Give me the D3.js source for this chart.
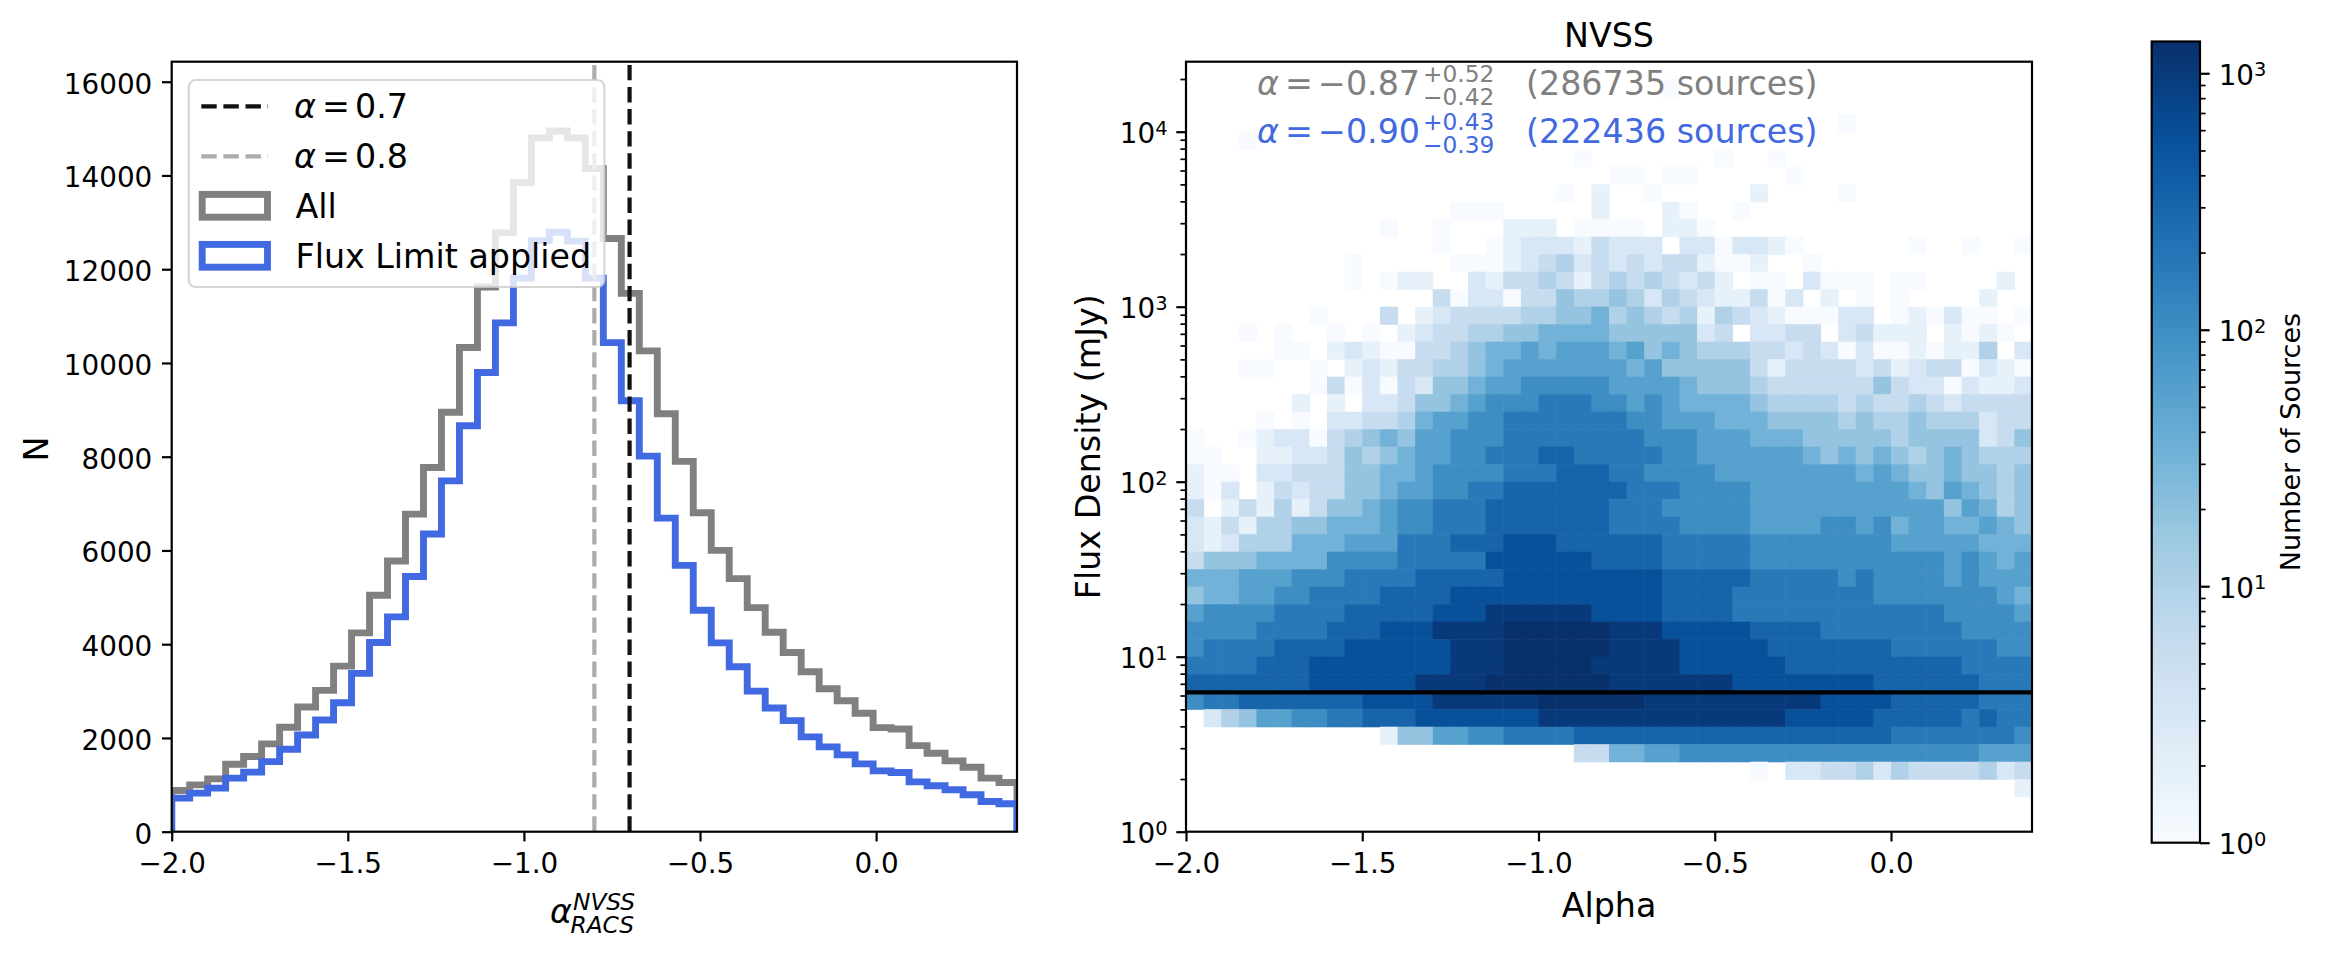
<!DOCTYPE html>
<meta charset="utf-8">
<style>
body { margin: 0; background: #fff; }
text { font-family: "DejaVu Sans", sans-serif; }
</style>
<svg width="2326" height="955"></svg>
<script src="https://d3js.org/d3.v7.min.js"></script>
<script>

// ---------------- data ----------------

// 1D histograms of the spectral index, 47 equal bins over [-2.0, 0.4]
const binStart = -2.0, binEnd = 0.4;
const allCounts = [879, 1000, 1128, 1440, 1603, 1873, 2227, 2660, 3015, 3532,
  4241, 5043, 5774, 6775, 7770, 8950, 10330, 11620, 12775, 13850,
  14800, 14950, 14800, 14150, 12655, 11484, 10257, 8915, 7900, 6803,
  6001, 5398, 4781, 4256, 3824, 3411, 3050, 2795, 2526, 2220,
  2190, 1837, 1674, 1511, 1376, 1143, 1049];
const fluxCounts = [717, 823, 930, 1143, 1270, 1496, 1760, 2064, 2383, 2752,
  3377, 4037, 4582, 5445, 6350, 7485, 8661, 9795, 10855, 11810,
  12610, 12790, 12600, 11810, 10434, 9193, 8012, 6689, 5682, 4724,
  4029, 3518, 3000, 2639, 2369, 2022, 1809, 1639, 1447, 1298,
  1262, 1064, 979, 894, 787, 645, 596];
const seriesLabels = ["All", "Flux Limit applied"];

// reference spectral indices (drawn at -alpha)
const alphaRefs = [0.7, 0.8];

// annotation lines in the right panel
const alphaMedians = ["0.87", "0.90"];
const alphaUpper = ["0.52", "0.43"];
const alphaLower = ["0.42", "0.39"];
const sourceCounts = ["286735", "222436"];

const fluxLimit = 6.25;     // mJy, horizontal line
const countTicks = [0, 2000, 4000, 6000, 8000, 10000, 12000, 14000, 16000];
const alphaTicks = [-2.0, -1.5, -1.0, -0.5, 0.0];
const countMax = 16427;     // y limit of the left panel
const fluxLogMax = 4.4;     // y limit of the right panel, log10 mJy
const densityMax = 1330;    // colour scale maximum

// 2D histogram: 48 alpha bins of 0.05, rows of 0.1 dex in flux from 10^0.2
// rows listed top (10^4.3-4.4) to bottom (10^0.2-0.3)
// each char = log10(count) in quarter dex steps ("0" = 1 source), "." = empty
const alphaStep = 0.05, fluxLogMin = 0.2, fluxLogStep = 0.1;
const densityRows = [
  "................................................",
  "...........................0....................",
  "................................................",
  ".....................................0..........",
  "...0............................................",
  "......................0.......0..0..............",
  "........................00.00.....0.............",
  ".....................0.1..0.....1....0..........",
  "...............000.....1...10..0................",
  "...........0..0...111.0000.110..................",
  "..............0..0122213222.2202210......0..0..0",
  ".........0.....000123423232331001..0............",
  ".........0.011..213343134343231.00.2000.00....1.",
  "..............302203354454243211302.1.0.0....1.",
  ".......0...3.12333344556454341432100022.010200.0",
  "...0.0..0.0.1233445566665555523.2233.23111.1010",
  ".....00.12100334566767776756544433232020010114.22",
  "...00..0.121334456777777767555553133332312330210",
  ".......030203255677888887777655543333335322 02112",
  "......1.1.2235567888999887876666544443433432 3333",
  "....0.0.22334677889999999887776665555454454442 33",
  "0..0122034565778889999999988877766655555455552352",
  "00..1122354567788999aa999998877777765656545654 44",
  "100.22333556678888999aaa998888777777776765565545",
  "102.13233556778899aaaaaaa99988887777777776576545",
  "3.131413556788999aaaaaaa999888887777777777757645",
  "21314455666788999aaaaaaa999988887777887867766765",
  "212444666777999aaabbbaaaaaa999998888888877777666",
  "35556666888899999bbbbbbaaaa999998888888888878767",
  "6667778889999aaaaabbbbbbbbbaaaaa9999989888878777",
  "56677889999aaaabbbbbbbbbbbbaaaa99999999888888876",
  "788889999aaaaabbbccccccbbbbaaaa99999999999988887",
  "88889999aaabbbccccddddddcccbbbbbaaaa999999998888",
  "89999aaaabbbbbbcccddddddccccbbbbbaaaaaaa99999988",
  "9999aaabbbbbbbbcccdddddcccccbbbbbbaaaaaaaaaa9999",
  "aaaaaaabbbbbbccccdddddddcccccccbbbbbbbbaaaaaa999",
  "899aaaaaaabbbbccccccddddddccccccccccbbbbaaaaa999",
  ".245778899aaabbbbbbbccccccccccccccbbbbbaaaaa9a999",
  "...........15577889999aaaaaaaaaaaaaaaaaa99999998",
  "......................33667788888888888888888777",
  "................................0.22334243333423",
  "...............................................1"
].map(r => r.replace(/ /g, ""));
const levelChars = "0123456789abcd";

// ---------------- layout ----------------

const svg = d3.select("svg");
const fs10 = 27.8, fs12 = 33.3;
const lw = 2.2;                 // spines and ticks
const left = {x0: 171.7, x1: 1017, y0: 61.7, y1: 831.7};
const right = {x0: 1186, x1: 2032, y0: 61.7, y1: 831.7};
const cbar = {x0: 2151.7, x1: 2200, y0: 41.5, y1: 842.7};

// matplotlib "Blues"
const bluesColors = ["#f7fbff", "#deebf7", "#c6dbef", "#9ecae1", "#6baed6",
                     "#4292c6", "#2171b5", "#08519c", "#08306b"];
const blues = d3.scaleLinear()
    .domain(d3.range(9).map(i => i / 8))
    .range(bluesColors)
    .interpolate(d3.interpolateRgb)
    .clamp(true);
const norm = d3.scaleLog().domain([1, densityMax]).range([0, 1]).clamp(true);

const defs = svg.append("defs");
defs.append("clipPath").attr("id", "clipL").append("rect")
    .attr("x", left.x0).attr("y", left.y0)
    .attr("width", left.x1 - left.x0).attr("height", left.y1 - left.y0);
defs.append("clipPath").attr("id", "clipR").append("rect")
    .attr("x", right.x0).attr("y", right.y0)
    .attr("width", right.x1 - right.x0).attr("height", right.y1 - right.y0);

function styleAxis(g) {
  g.select(".domain").remove();
  g.attr("font-family", "DejaVu Sans, sans-serif").attr("font-size", fs10);
  g.selectAll(".tick line").attr("stroke-width", lw);
  g.selectAll(".tick text").attr("fill", "#000");
}

function powLabel(g, x, y, exp, anchor) {
  const t = g.append("text").attr("x", x).attr("y", y)
      .attr("text-anchor", anchor).style("font-size", fs10 + "px");
  t.append("tspan").text("10");
  t.append("tspan").attr("dy", -8.5).style("font-size", (fs10 * 0.7) + "px").text(exp);
}

// ---------------- left panel: 1D histograms ----------------

const xL = d3.scaleLinear().domain([binStart, binEnd]).range([left.x0, left.x1]);
const yL = d3.scaleLinear().domain([0, countMax]).range([left.y1, left.y0]);

const gL = svg.append("g");
const plotL = gL.append("g").attr("clip-path", "url(#clipL)");

const nBins = allCounts.length;
const edges = d3.range(nBins + 1).map(i => binStart + i * (binEnd - binStart) / nBins);

function stepPoints(counts) {
  const pts = [[edges[0], 0]];
  counts.forEach((c, i) => { pts.push([edges[i], c], [edges[i + 1], c]); });
  pts.push([edges[nBins], 0]);
  return pts;
}
const stepLine = d3.line().x(d => xL(d[0])).y(d => yL(d[1]));
const histColors = ["#808080", "#4169e1"];

[allCounts, fluxCounts].forEach((counts, k) => {
  plotL.append("path")
      .attr("d", stepLine(stepPoints(counts)))
      .attr("fill", "none")
      .attr("stroke", histColors[k])
      .attr("stroke-width", 6.9)
      .attr("stroke-linejoin", "miter");
});

const refColors = ["#111111", "#acacac"];
alphaRefs.forEach((a, k) => {
  plotL.append("line")
      .attr("x1", xL(-a)).attr("x2", xL(-a))
      .attr("y1", left.y1).attr("y2", left.y0)
      .attr("stroke", refColors[k])
      .attr("stroke-width", 4.2)
      .attr("stroke-dasharray", "15.4 6.7");
});

// legend
const leg = gL.append("g");
leg.append("rect")
    .attr("x", 188.8).attr("y", 80).attr("width", 415.6).attr("height", 207)
    .attr("rx", 7).attr("ry", 7)
    .attr("fill", "#fff").attr("fill-opacity", 0.8)
    .attr("stroke", "#cccccc").attr("stroke-opacity", 0.8).attr("stroke-width", lw);
const legRows = [118.3, 168.3, 218.3, 268.3];
alphaRefs.forEach((a, k) => {
  const cy = legRows[k] - 12;
  leg.append("line")
      .attr("x1", 201.3).attr("x2", 268).attr("y1", cy).attr("y2", cy)
      .attr("stroke", refColors[k]).attr("stroke-width", 4.2)
      .attr("stroke-dasharray", "15.4 6.7");
  leg.append("text").attr("x", 294).attr("y", legRows[k])
      .style("font-size", fs12 + "px").style("font-style", "italic").text("\u03b1");
  leg.append("text").attr("x", 322).attr("y", legRows[k])
      .style("font-size", fs12 + "px").text("=");
  leg.append("text").attr("x", 355).attr("y", legRows[k])
      .style("font-size", fs12 + "px").text(a.toFixed(1));
});
seriesLabels.forEach((s, k) => {
  const cy = legRows[k + 2] - 12.5;
  leg.append("rect")
      .attr("x", 202.2).attr("y", cy - 11.4).attr("width", 65.3).attr("height", 22.8)
      .attr("fill", "none").attr("stroke", histColors[k]).attr("stroke-width", 6.9);
  leg.append("text").attr("x", 295.5).attr("y", legRows[k + 2])
      .style("font-size", fs12 + "px").text(s);
});

// spines + axes
gL.append("rect")
    .attr("x", left.x0).attr("y", left.y0)
    .attr("width", left.x1 - left.x0).attr("height", left.y1 - left.y0)
    .attr("fill", "none").attr("stroke", "#000").attr("stroke-width", lw);

const axLy = gL.append("g").attr("transform", `translate(${left.x0},0)`)
    .call(d3.axisLeft(yL).tickValues(countTicks).tickSize(9.7).tickPadding(9.7)
      .tickFormat(d3.format("d")));
styleAxis(axLy);
axLy.selectAll(".tick text").attr("dy", 11.5);

const axLx = gL.append("g").attr("transform", `translate(0,${left.y1})`)
    .call(d3.axisBottom(xL).tickValues(alphaTicks).tickSize(9.7).tickFormat(d3.format(".1f")));
styleAxis(axLx);
axLx.selectAll(".tick text").attr("dy", null).attr("y", 41.3);

gL.append("text").attr("transform", "translate(48.3,449) rotate(-90)")
    .attr("text-anchor", "middle").style("font-size", fs12 + "px").text("N");

gL.append("text").attr("x", 550).attr("y", 923)
    .style("font-size", fs12 + "px").style("font-style", "italic").text("\u03b1");
gL.append("text").attr("x", 573).attr("y", 910)
    .style("font-size", (fs12 * 0.7) + "px").style("font-style", "italic").text("NVSS");
gL.append("text").attr("x", 570.5).attr("y", 932.7)
    .style("font-size", (fs12 * 0.7) + "px").style("font-style", "italic").text("RACS");

// ---------------- right panel: 2D histogram ----------------

const xR = d3.scaleLinear().domain([binStart, binEnd]).range([right.x0, right.x1]);
const yR = d3.scaleLog().domain([1, Math.pow(10, fluxLogMax)]).range([right.y1, right.y0]);

const cells = [];
const nRows = densityRows.length;
densityRows.forEach((row, r) => {
  const lo = fluxLogMin + (nRows - 1 - r) * fluxLogStep;
  [...row].forEach((ch, j) => {
    const lev = levelChars.indexOf(ch);
    if (lev < 0) return;
    cells.push({
      a0: binStart + j * alphaStep, a1: binStart + (j + 1) * alphaStep,
      f0: Math.pow(10, lo), f1: Math.pow(10, lo + fluxLogStep),
      count: Math.pow(10, lev / 4)
    });
  });
});

const gR = svg.append("g");
const plotR = gR.append("g").attr("clip-path", "url(#clipR)");
plotR.selectAll("rect").data(cells).join("rect")
    .attr("x", d => xR(d.a0))
    .attr("y", d => yR(d.f1))
    .attr("width", d => xR(d.a1) - xR(d.a0) + 0.6)
    .attr("height", d => yR(d.f0) - yR(d.f1) + 0.6)
    .attr("fill", d => blues(norm(d.count)));

plotR.append("line")
    .attr("x1", right.x0).attr("x2", right.x1)
    .attr("y1", yR(fluxLimit)).attr("y2", yR(fluxLimit))
    .attr("stroke", "#000").attr("stroke-width", 4.2);

gR.append("rect")
    .attr("x", right.x0).attr("y", right.y0)
    .attr("width", right.x1 - right.x0).attr("height", right.y1 - right.y0)
    .attr("fill", "none").attr("stroke", "#000").attr("stroke-width", lw);

const fluxTicks = yR.ticks();
const isMajor = v => Math.abs(Math.log10(v) - Math.round(Math.log10(v))) < 1e-9;
const axRyMinor = gR.append("g").attr("transform", `translate(${right.x0},0)`)
    .call(d3.axisLeft(yR).tickValues(fluxTicks.filter(v => !isMajor(v))).tickSize(5.6).tickFormat(""));
styleAxis(axRyMinor);
axRyMinor.selectAll(".tick line").attr("stroke-width", 1.7);
const fluxMajor = fluxTicks.filter(isMajor);
const axRy = gR.append("g").attr("transform", `translate(${right.x0},0)`)
    .call(d3.axisLeft(yR).tickValues(fluxMajor).tickSize(9.7).tickFormat(""));
styleAxis(axRy);
fluxMajor.forEach(v => powLabel(gR, right.x0 - 18.5, yR(v) + 11.5, Math.round(Math.log10(v)), "end"));

const axRx = gR.append("g").attr("transform", `translate(0,${right.y1})`)
    .call(d3.axisBottom(xR).tickValues(alphaTicks).tickSize(9.7).tickFormat(d3.format(".1f")));
styleAxis(axRx);
axRx.selectAll(".tick text").attr("dy", null).attr("y", 41.3);

gR.append("text").attr("x", (right.x0 + right.x1) / 2).attr("y", 46.7)
    .attr("text-anchor", "middle").style("font-size", fs12 + "px").text("NVSS");
gR.append("text").attr("x", (right.x0 + right.x1) / 2).attr("y", 916.7)
    .attr("text-anchor", "middle").style("font-size", fs12 + "px").text("Alpha");
gR.append("text").attr("transform", `translate(1100,${(right.y0 + right.y1) / 2}) rotate(-90)`)
    .attr("text-anchor", "middle").style("font-size", fs12 + "px").text("Flux Density (mJy)");

// annotations
const annColors = ["#808080", "#4169e1"];
const annBase = [95, 143];
alphaMedians.forEach((m, k) => {
  const y = annBase[k];
  const g = gR.append("g");
  const put = (x, dy, size, txt, italic) => g.append("text")
      .attr("x", x).attr("y", y + dy)
      .style("font-size", size + "px")
      .style("font-style", italic ? "italic" : "normal")
      .style("fill", annColors[k])
      .text(txt);
  put(1257, 0, fs12, "\u03b1", true);
  put(1285, 0, fs12, "=", false);
  put(1318, 0, fs12, "\u2212" + m, false);
  put(1423, -13, fs12 * 0.7, "+" + alphaUpper[k], false);
  put(1423, 10, fs12 * 0.7, "\u2212" + alphaLower[k], false);
  put(1526, 0, fs12, "(" + sourceCounts[k] + " sources)", false);
});

// ---------------- colour bar ----------------

const yC = d3.scaleLog().domain([1, densityMax]).range([cbar.y1, cbar.y0]);
const grad = defs.append("linearGradient").attr("id", "cbgrad")
    .attr("x1", 0).attr("y1", 1).attr("x2", 0).attr("y2", 0);
d3.range(65).forEach(i => {
  grad.append("stop").attr("offset", i / 64).attr("stop-color", blues(i / 64));
});
const gC = svg.append("g");
gC.append("rect")
    .attr("x", cbar.x0).attr("y", cbar.y0)
    .attr("width", cbar.x1 - cbar.x0).attr("height", cbar.y1 - cbar.y0)
    .attr("fill", "url(#cbgrad)")
    .attr("stroke", "#000").attr("stroke-width", lw);

const cTicks = yC.ticks();
const axCminor = gC.append("g").attr("transform", `translate(${cbar.x1},0)`)
    .call(d3.axisRight(yC).tickValues(cTicks.filter(v => !isMajor(v))).tickSize(5.6).tickFormat(""));
styleAxis(axCminor);
axCminor.selectAll(".tick line").attr("stroke-width", 1.7);
const cMajor = cTicks.filter(isMajor);
const axC = gC.append("g").attr("transform", `translate(${cbar.x1},0)`)
    .call(d3.axisRight(yC).tickValues(cMajor).tickSize(9.7).tickFormat(""));
styleAxis(axC);
cMajor.forEach(v => powLabel(gC, cbar.x1 + 18.7, yC(v) + 11.5, Math.round(Math.log10(v)), "start"));

gC.append("text").attr("transform", `translate(2300,${(cbar.y0 + cbar.y1) / 2}) rotate(-90)`)
    .attr("text-anchor", "middle").style("font-size", "27px").text("Number of Sources");

</script>
